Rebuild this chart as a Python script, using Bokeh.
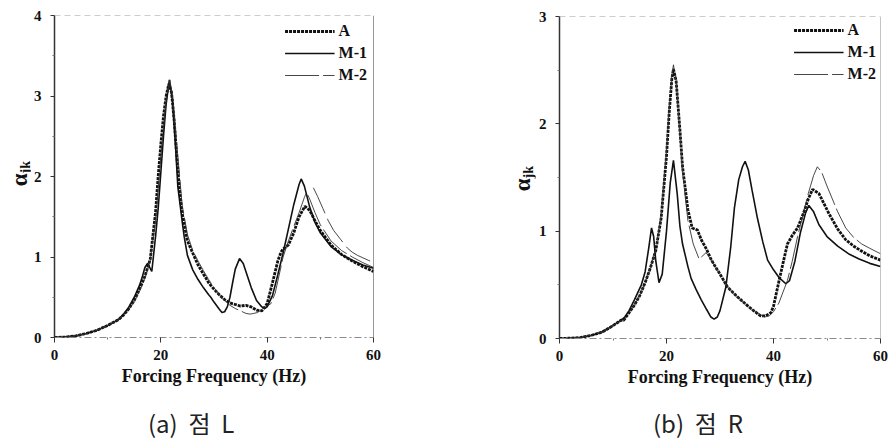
from bokeh.plotting import figure
from bokeh.models import Range1d, FixedTicker, Span, Div
from bokeh.layouts import row, column
from bokeh.embed import file_html
from bokeh.resources import INLINE

# ---------------- data ----------------
# Panel (a) point L
left_A_x = [0, 2, 4, 6, 8, 10, 12, 13, 14, 15, 16, 17, 18, 19, 19.5, 20, 20.5, 21, 21.5, 22, 22.5, 23,
            23.5, 24, 25, 26, 27, 28, 29, 30, 31, 32, 33, 34, 35, 36, 37, 38, 39, 40, 41, 42, 42.6, 43, 44, 45,
            46, 47.1, 48, 49, 50, 52, 54, 56, 58, 60]
left_A_y = [0, 0.005, 0.02, 0.05, 0.09, 0.15, 0.22, 0.28, 0.36, 0.46, 0.6, 0.76, 0.97, 1.55, 2.0, 2.4, 2.75, 3.0, 3.15, 3.05, 2.7, 2.25,
            1.85, 1.55, 1.2, 1.05, 0.9, 0.79, 0.68, 0.6, 0.53, 0.47, 0.43, 0.41, 0.39, 0.40, 0.38, 0.34, 0.33, 0.42, 0.68, 0.95, 1.06, 1.1, 1.15, 1.3,
            1.5, 1.63, 1.58, 1.45, 1.33, 1.15, 1.03, 0.95, 0.88, 0.82]

left_M1_x = [0, 2, 4, 6, 8, 10, 12, 13, 14, 15, 16, 16.5, 17, 17.5, 18, 18.3, 19, 19.5, 20, 20.5, 21, 21.6,
             22.2, 22.7, 23.2, 24, 24.4, 25, 26, 27, 28, 29, 29.4, 30, 31, 31.5, 32, 32.5, 33, 33.5, 34, 34.8,
             35.5, 36, 37, 38, 39, 39.5, 40, 41, 42, 43, 44, 45, 46, 46.4, 47, 48, 49, 50, 52, 54, 56, 58, 60]
left_M1_y = [0, 0.005, 0.02, 0.05, 0.09, 0.15, 0.22, 0.29, 0.38, 0.5, 0.65, 0.75, 0.87, 0.92, 0.86, 0.82, 1.25, 1.6, 2.05, 2.5, 2.9, 3.2,
             2.95, 2.45, 1.87, 1.45, 1.25, 1.02, 0.84, 0.72, 0.62, 0.53, 0.5, 0.44, 0.35, 0.31, 0.32, 0.38, 0.5, 0.68, 0.85, 0.98,
             0.92, 0.82, 0.62, 0.46, 0.38, 0.36, 0.38, 0.52, 0.78, 1.05, 1.35, 1.65, 1.9, 1.97, 1.88, 1.62, 1.43, 1.3, 1.13, 1.03, 0.96, 0.9, 0.86]

left_M2_x = [0, 2, 4, 6, 8, 10, 12, 13, 14, 15, 16, 17, 18, 19, 20, 21, 21.7, 22.3, 23, 24, 25, 26,
             27, 28, 29, 30, 31, 32, 33, 34, 35, 36, 36.8, 37.5, 38.2, 39, 40, 40.7, 41.5, 42, 43, 44, 45, 46, 47, 47.4,
             48, 49, 50, 52, 54, 56, 58, 60]
left_M2_y = [0, 0.005, 0.02, 0.05, 0.09, 0.15, 0.22, 0.28, 0.35, 0.45, 0.58, 0.74, 0.95, 1.45, 2.25, 2.95, 3.2, 2.95, 2.4, 1.65, 1.28, 1.08,
             0.95, 0.83, 0.72, 0.62, 0.53, 0.46, 0.40, 0.36, 0.33, 0.30, 0.29, 0.30, 0.31, 0.35, 0.39, 0.42, 0.55, 0.7, 1.0, 1.2, 1.38, 1.55, 1.74, 1.80,
             1.72, 1.55, 1.4, 1.2, 1.08, 1.0, 0.93, 0.87]

# thin upper trace visible only past the last peak in panel (a)
left_M2_upper_x = [48.7, 49.5, 50.5, 51.5, 52.5, 53.8, 55.1, 56, 57, 58, 59, 60]
left_M2_upper_y = [1.86, 1.75, 1.6, 1.45, 1.33, 1.22, 1.11, 1.06, 1.02, 0.99, 0.96, 0.93]

# Panel (b) point R
right_A_x = [0, 2, 4, 6, 8, 10, 11.5, 12, 13, 14, 15, 16, 17, 18, 19, 20, 20.5, 21, 21.3, 21.8, 22.5, 23,
             24, 24.8, 25.8, 26.5, 27.5, 28.3, 29, 30, 31.4, 33, 34.8, 36, 37.6, 38.5, 39.5, 40,
             41, 42, 42.6, 43.5, 44.5, 45.7, 46.5, 47.3, 48.5, 50.4, 52, 53.5, 55, 56.6, 58, 60]
right_A_y = [0, 0.003, 0.01, 0.03, 0.06, 0.12, 0.17, 0.17, 0.24, 0.31, 0.4, 0.52, 0.66, 0.82, 1.12, 1.7, 2.1, 2.42, 2.51, 2.4, 1.95, 1.6,
             1.2, 1.03, 1.01, 0.92, 0.83, 0.74, 0.68, 0.6, 0.48, 0.4, 0.32, 0.27, 0.21, 0.21, 0.24, 0.3,
             0.53, 0.75, 0.88, 0.96, 1.03, 1.18, 1.3, 1.39, 1.35, 1.16, 1.02, 0.92, 0.86, 0.81, 0.77, 0.73]

right_M1_x = [0, 2, 4, 6, 8, 10, 11.5, 12.2, 13, 14, 15.3, 16, 16.7, 17.2, 17.6, 18, 18.6, 19.2, 20, 20.7, 21.3, 22,
              22.5, 23, 24, 24.6, 25.5, 26.5, 27.5, 28.3, 28.9, 29.5, 30, 31.1, 32, 32.7, 33.5, 34.2,
              34.7, 35.3, 36, 37, 38, 38.9, 40, 41, 42.3, 43, 44, 45, 46, 46.6, 47.5, 48.5, 50, 52, 54, 56, 58, 60]
right_M1_y = [0, 0.003, 0.01, 0.03, 0.06, 0.12, 0.17, 0.2, 0.26, 0.36, 0.5, 0.62, 0.85, 1.03, 0.95, 0.72, 0.52, 0.6, 1.0, 1.45, 1.66, 1.35,
              1.05, 0.88, 0.67, 0.56, 0.46, 0.36, 0.27, 0.2, 0.18, 0.2, 0.26, 0.48, 0.85, 1.22, 1.48, 1.6,
              1.65, 1.57, 1.38, 1.12, 0.9, 0.73, 0.64, 0.57, 0.51, 0.54, 0.72, 0.98, 1.17, 1.24, 1.18, 1.06, 0.95, 0.86, 0.79, 0.74, 0.7, 0.67]

right_M2_x = [0, 2, 4, 6, 8, 10, 11.5, 12, 13, 14, 15, 16, 17, 18, 19, 20, 20.5, 21, 21.3, 21.8, 22.5, 23, 24, 25,
              26.1, 27.4, 28.5, 30, 31.4, 33, 34.8, 36, 37.6, 38.3, 39.2, 40, 41, 42.6, 43.5, 44.5,
              45.5, 46.5, 47.5, 48.2, 49, 50, 51, 52, 53.5, 55, 56.5, 58, 60]
right_M2_y = [0, 0.003, 0.01, 0.03, 0.06, 0.12, 0.17, 0.17, 0.24, 0.31, 0.4, 0.52, 0.66, 0.83, 1.15, 1.75, 2.15, 2.45, 2.55, 2.4, 1.9, 1.55, 1.1, 0.88,
              0.74, 0.80, 0.72, 0.6, 0.48, 0.4, 0.32, 0.27, 0.22, 0.2, 0.21, 0.25, 0.33, 0.54, 0.72, 0.95,
              1.15, 1.35, 1.52, 1.6, 1.55, 1.42, 1.3, 1.18, 1.03, 0.94, 0.88, 0.84, 0.79]

x_ticks = [0, 20, 40, 60]
x_minor = [10, 30, 50]
left_y_ticks = [0, 1, 2, 3, 4]
right_y_ticks = [0, 1, 2, 3]
x_title = "Forcing Frequency (Hz)"
y_symbol = "α"
y_subscript = "jk"
series_names = ["A", "M-1", "M-2"]
captions = ["(a)  점  L", "(b)  점  R"]

SERIF = "Liberation Serif"
FIG_H = 392
CAP_H = 47


def y_title_div(width, left_px, top_px):
    html = ('<div style="margin-left:%dpx;margin-top:%dpx;writing-mode:vertical-rl;'
            'transform:rotate(180deg);font-family:\'Liberation Serif\';font-weight:bold;'
            'font-size:23px;line-height:23px;color:#111;white-space:nowrap">%s'
            '<sub style="font-size:14px">%s</sub></div>') % (left_px, top_px, y_symbol, y_subscript)
    return Div(text=html, width=width, height=FIG_H + CAP_H, margin=0)


def caption_div(text, width, left_px):
    html = ('<div style="margin-left:%dpx;margin-top:19px;font-family:\'Noto Sans CJK KR\';'
            'font-size:24px;line-height:24px;color:#222;white-space:pre">%s</div>') % (left_px, text)
    return Div(text=html, width=width, height=CAP_H, margin=0)


def panel(series, extra, yticks, width, border_left, border_right, top, edge_color, legend_margin):
    ymax = yticks[-1]
    p = figure(width=width, height=FIG_H, x_range=Range1d(0, 60), y_range=Range1d(0, ymax),
               output_backend="svg", toolbar_location=None,
               min_border_left=border_left, min_border_right=border_right,
               min_border_top=top, min_border_bottom=FIG_H - top - 322, margin=0)
    p.outline_line_color = None
    p.grid.visible = False

    # x axis
    xa = p.xaxis[0]
    xa.ticker = FixedTicker(ticks=x_ticks, minor_ticks=x_minor)
    xa.axis_line_color = "#8a8a8a"
    xa.axis_line_dash = "7 3 2 3"
    xa.axis_line_width = 1
    xa.major_tick_in = 0
    xa.major_tick_out = 5
    xa.minor_tick_in = 0
    xa.minor_tick_out = 2
    xa.major_tick_line_color = "#333"
    xa.minor_tick_line_color = "#777"
    xa.major_label_text_font = SERIF
    xa.major_label_text_font_style = "bold"
    xa.major_label_text_font_size = "15px"
    xa.major_label_text_color = "#111"
    xa.major_label_standoff = 7
    xa.axis_label = x_title
    xa.axis_label_text_font = SERIF
    xa.axis_label_text_font_style = "bold"
    xa.axis_label_text_font_size = "18px"
    xa.axis_label_text_color = "#111"
    xa.axis_label_standoff = 3

    # y axis
    ya = p.yaxis[0]
    ya.ticker = FixedTicker(ticks=yticks, minor_ticks=[t + 0.5 for t in yticks[:-1]])
    ya.axis_line_color = "#333"
    ya.axis_line_width = 1.5
    ya.major_tick_in = 0
    ya.major_tick_out = 4
    ya.minor_tick_in = 0
    ya.minor_tick_out = 2
    ya.major_tick_line_color = "#333"
    ya.minor_tick_line_color = "#777"
    ya.major_label_text_font = SERIF
    ya.major_label_text_font_style = "bold"
    ya.major_label_text_font_size = "15px"
    ya.major_label_text_color = "#111"
    ya.major_label_standoff = 9

    # frame top (dashed, faint) and right edge
    p.add_layout(Span(location=ymax, dimension="width", line_color="#9a9a9a",
                      line_dash="6 4", line_width=1))
    p.add_layout(Span(location=60, dimension="height", line_color=edge_color, line_width=1))

    styles = [dict(line_width=2.8, line_dash="3 1", line_color="#111"),
              dict(line_width=1.6, line_color="#111"),
              dict(line_width=0.9, line_color="#333", line_dash="34 4")]
    for (xs, ys), name, st in zip(series, series_names, styles):
        p.line(xs, ys, legend_label=name, **st)
    for xs, ys in extra:
        p.line(xs, ys, line_width=0.9, line_color="#333", line_dash="28 6")

    lg = p.legend[0]
    lg.location = "top_right"
    lg.border_line_color = None
    lg.background_fill_alpha = 0
    lg.label_text_font = SERIF
    lg.label_text_font_style = "bold"
    lg.label_text_font_size = "16px"
    lg.label_text_color = "#111"
    lg.glyph_width = 50
    lg.glyph_height = 20
    lg.label_height = 20
    lg.spacing = 2
    lg.padding = 2
    lg.margin = legend_margin
    lg.label_standoff = 4
    return p


d1 = y_title_div(30, 8, 161)
p1 = panel([(left_A_x, left_A_y), (left_M1_x, left_M1_y), (left_M2_x, left_M2_y)],
           [(left_M2_upper_x, left_M2_upper_y)], left_y_ticks, 415, 23, 72, 15, "#333", 6)
c1 = caption_div(captions[0], 415, 118)
d2 = y_title_div(90, 66, 166)
p2 = panel([(right_A_x, right_A_y), (right_M1_x, right_M1_y), (right_M2_x, right_M2_y)],
           [], right_y_ticks, 355, 23, 10, 16, "#8a8a8a", 4)
c2 = caption_div(captions[1], 355, 118)

layout = row(d1, column(p1, c1, spacing=0), d2, column(p2, c2, spacing=0), spacing=0)
open("out.html", "w").write(file_html(layout, INLINE))
